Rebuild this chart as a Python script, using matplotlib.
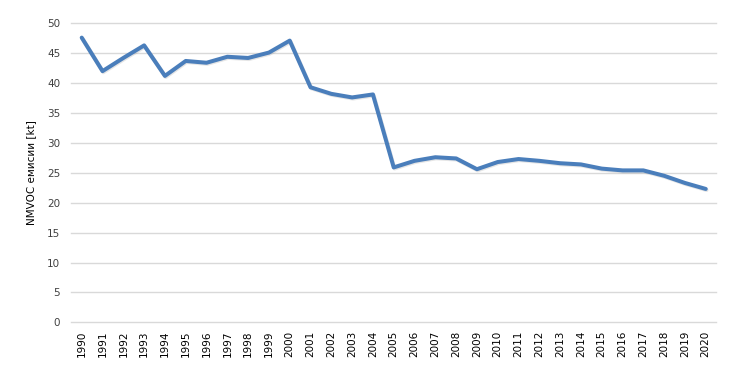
import matplotlib.pyplot as plt
import matplotlib.patheffects as pe

plt.rcParams['font.family'] = ['DejaVu Sans']

# години
years = [str(y) for y in range(1990, 2021)]
# NMVOC емисии [kt]
emissions = [47.6, 42.0, 44.2, 46.3, 41.2, 43.7, 43.4, 44.4, 44.2, 45.1,
             47.1, 39.3, 38.2, 37.6, 38.1, 25.9, 27.0, 27.6, 27.4, 25.6,
             26.8, 27.3, 27.0, 26.6, 26.4, 25.7, 25.4, 25.4, 24.5, 23.3, 22.3]
y_ticks = [0, 5, 10, 15, 20, 25, 30, 35, 40, 45, 50]

fig = plt.figure(figsize=(7.33, 3.88), dpi=100)
ax = fig.add_axes([0.0973, 0.1693, 0.8797, 0.7707])

x = range(len(years))
ax.plot(x, emissions, color='#4a7ebb', linewidth=2.9, solid_capstyle='round',
        solid_joinstyle='round',
        path_effects=[pe.SimpleLineShadow(offset=(0.6, -0.8), shadow_color='gray', alpha=0.2),
                      pe.Normal()])

ax.set_xlim(-0.5, len(years) - 0.5)
ax.set_ylim(0, 50)
ax.set_yticks(y_ticks)
ax.set_xticks(list(x))
ax.set_xticklabels(years, rotation=90)
ax.grid(axis='y', color='#d9d9d9', linewidth=1)
for gl in ax.get_ygridlines():
    gl.set_clip_on(False)
ax.set_axisbelow(True)
for s in ax.spines.values():
    s.set_visible(False)
ax.tick_params(axis='both', length=0, labelsize=7.5, colors='#404040')
ax.tick_params(axis='y', pad=8)
ax.tick_params(axis='x', pad=6, labelcolor='black')
ax.set_ylabel('NMVOC емисии [kt]', fontsize=7.5, labelpad=8)

fig.savefig('out.png', dpi=100)
